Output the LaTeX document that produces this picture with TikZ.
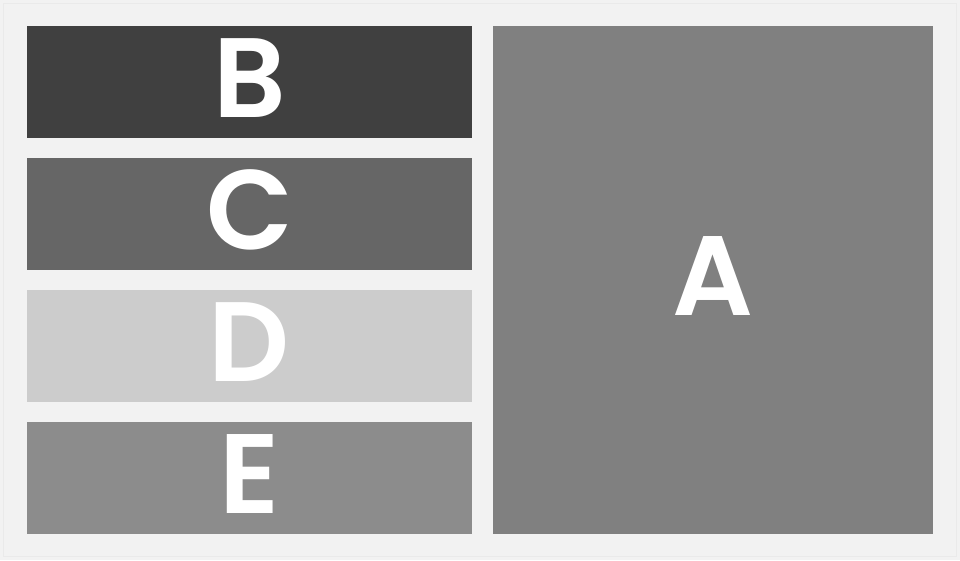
\documentclass[tikz,border=0pt]{standalone}
\usepackage{fontspec}
\setmainfont{Poppins}[BoldFont={Poppins SemiBold}]
\usetikzlibrary{positioning}

\definecolor{bggray}{HTML}{F2F2F2}
\definecolor{rimgray}{HTML}{EAEAEA}
\definecolor{grayB}{HTML}{404040}
\definecolor{grayC}{HTML}{666666}
\definecolor{grayD}{HTML}{CCCCCC}
\definecolor{grayE}{HTML}{8C8C8C}
\definecolor{grayA}{HTML}{808080}

\tikzset{
    panel/.style={draw=none, inner sep=0pt, outer sep=0pt,
        text=white, font=\bfseries\fontsize{113}{113}\selectfont,
        text height=81pt, text depth=10pt},
    slab/.style={panel, minimum width=445pt, minimum height=112pt},
}

\begin{document}
\begin{tikzpicture}[x=1pt,y=-1pt]
            % Hintergrund
            \useasboundingbox (0,0) rectangle (960,560);
            \fill[bggray] (0,0) rectangle (960,560);
            \draw[rimgray, line width=1pt] (3.5,3.5) rectangle (956.5,556.5);

            % linke Spalte: vier Streifen
            \node[slab, fill=grayB] (B) at (249.5,82) {B};
            \node[slab, fill=grayC] (C) at (249.5,214) {C};
            \node[slab, fill=grayD] (D) at (249.5,346) {D};
            \node[slab, fill=grayE] (E) at (249.5,477.5) {E};

            % rechte Spalte: grosses Feld
            \node[panel, fill=grayA, minimum width=440pt, minimum height=508pt] (A) at (713,280) {A};
\end{tikzpicture}
\end{document}
